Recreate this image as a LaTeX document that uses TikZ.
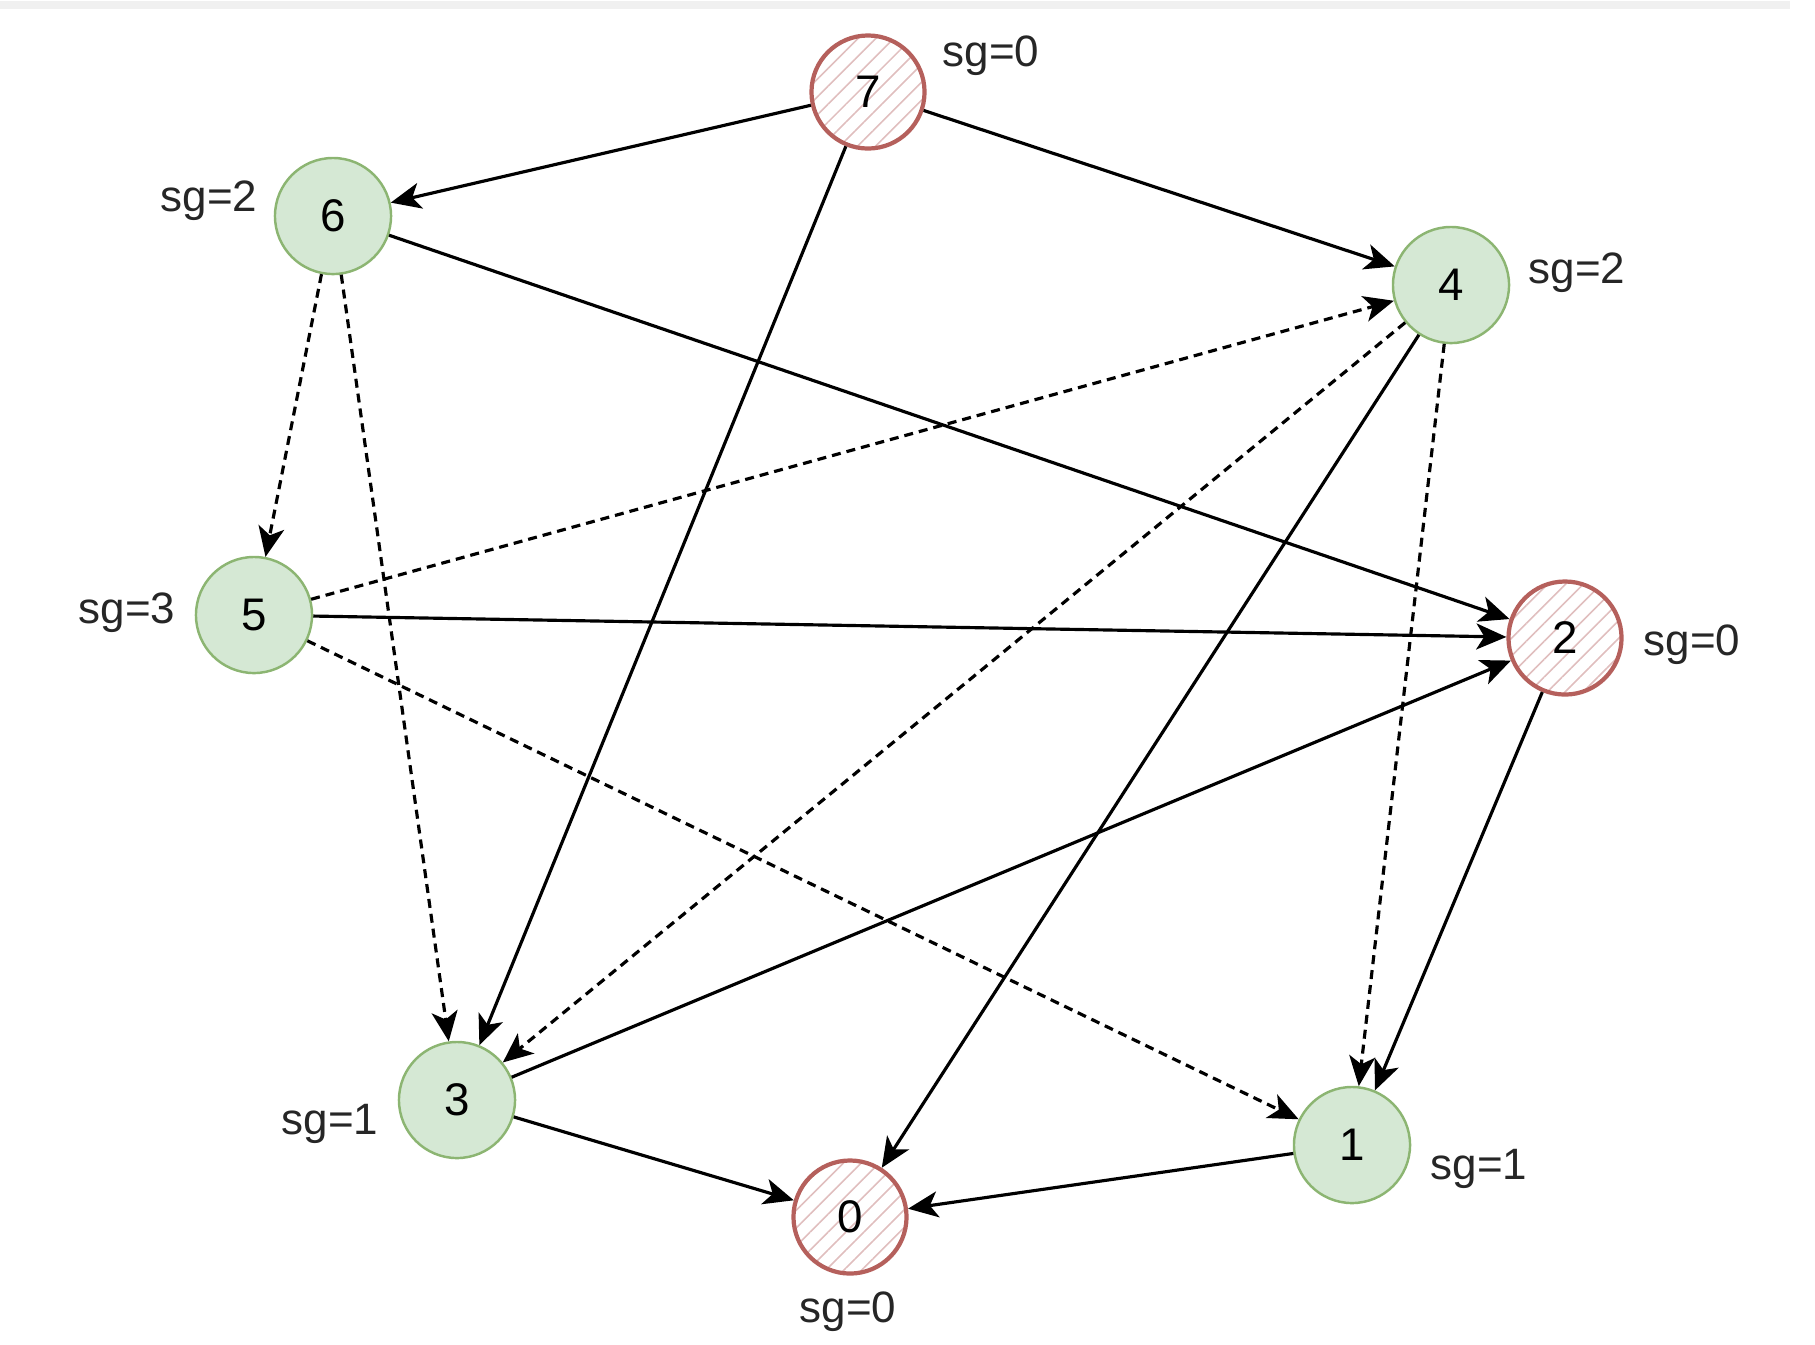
\documentclass[tikz,border=0pt]{standalone}
\usepackage{fontspec}
\setmainfont{Liberation Sans}
\usepackage{tikz}
\usetikzlibrary{positioning,arrows.meta,patterns.meta}
\definecolor{winfill}{HTML}{D5E8D4}
\definecolor{windraw}{HTML}{8CB572}
\definecolor{losedraw}{HTML}{B5605C}
\definecolor{losehatch}{HTML}{E0BEBE}
\tikzstyle{win}=[circle, draw=windraw, fill=winfill, line width=0.7pt, minimum size=1.16cm,
        inner sep=0pt, font=\fontsize{13}{15}\selectfont]
\tikzstyle{lose}=[circle, draw=losedraw, fill=white, pattern={Lines[angle=45, distance=3.6pt, line width=0.45pt]},
        pattern color=losehatch, line width=1.2pt, minimum size=1.13cm, inner sep=0pt, font=\fontsize{13}{15}\selectfont]
\tikzstyle{sg}=[inner sep=0pt, text=black!85, font=\fontsize{12.5}{15}\selectfont]
\tikzstyle{move}=[-{Stealth[length=0.3cm, width=0.26cm, inset=0.08cm]}, line width=0.9pt]
\tikzstyle{extra}=[move, dash pattern=on 0.09cm off 0.06cm]

\begin{document}
\begin{tikzpicture}[x=0.01cm, y=-0.01cm]
    \useasboundingbox (0,0) rectangle (1815,1344);
    \draw[black!6, line width=2pt] (0,5) -- (1790,5);
    % positions
    \node (V7) [lose] at (868,92) {7};
    \node (V6) [win] at (333,216) {6};
    \node (V4) [win] at (1451,285) {4};
    \node (V5) [win] at (254,615) {5};
    \node (V2) [lose] at (1565,638) {2};
    \node (V3) [win] at (457,1100) {3};
    \node (V1) [win] at (1352,1145) {1};
    \node (V0) [lose] at (850,1217) {0};
    % grundy values
    \node (G7) [sg] at (991,56) {sg=0};
    \node (G6) [sg] at (209,201) {sg=2};
    \node (G4) [sg] at (1577,273) {sg=2};
    \node (G5) [sg] at (127,613) {sg=3};
    \node (G2) [sg] at (1692,645) {sg=0};
    \node (G3) [sg] at (330,1124) {sg=1};
    \node (G1) [sg] at (1479,1169) {sg=1};
    \node (G0) [sg] at (848,1312) {sg=0};
    % moves
    \draw[move] (V7) -- (V6);
    \draw[move] (V7) -- (V4);
    \draw[move] (V7) -- (V3);
    \draw[move] (V6) -- (V2);
    \draw[move] (V5) -- (V2);
    \draw[move] (V3) -- (V2);
    \draw[move] (V4) -- (V0);
    \draw[move] (V2) -- (V1);
    \draw[move] (V3) -- (V0);
    \draw[move] (V1) -- (V0);
    \draw[extra] (V6) -- (V5);
    \draw[extra] (V6) -- (V3);
    \draw[extra] (V5) -- (V4);
    \draw[extra] (V4) -- (V3);
    \draw[extra] (V4) -- (V1);
    \draw[extra] (V5) -- (V1);
\end{tikzpicture}
\end{document}
